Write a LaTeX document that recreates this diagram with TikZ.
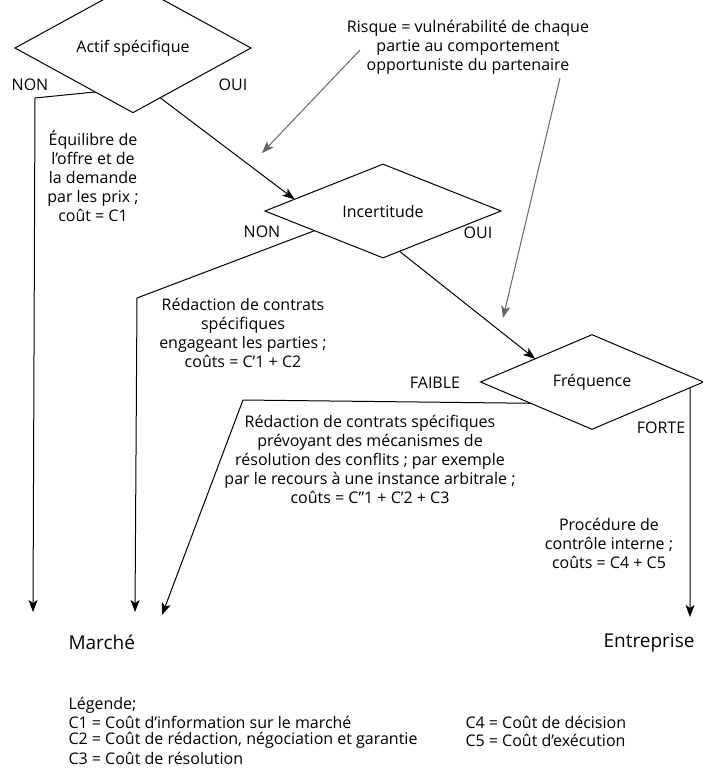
\documentclass[tikz,border=0pt]{standalone}
\usepackage{fontspec}
\setmainfont{Open Sans}
\usetikzlibrary{shapes.geometric,arrows.meta,calc}

\tikzset{
	choix/.style={draw, diamond, inner sep=0pt, outer sep=0pt, minimum width=236pt, minimum height=82pt, font=\fontsize{16}{19}\selectfont},
	txt/.style={align=center, inner sep=0pt, font=\fontsize{16}{19}\selectfont},
	grand/.style={inner sep=0pt, font=\fontsize{19}{22}\selectfont},
	leg/.style={anchor=west, inner sep=0pt, font=\fontsize{16}{18}\selectfont},
	risque/.style={draw=black!60, -{Stealth[length=12pt,width=9pt,inset=3pt,fill=black!60]}},
}

\begin{document}
\begin{tikzpicture}[x=1pt, y=-1pt, line width=1pt, >={Stealth[length=12pt,width=9pt,inset=3pt]}]
	\useasboundingbox (0,0) rectangle (703,769);
	% losanges
	\node[choix] (actif) at (133,48) {Actif spécifique};
	\node[choix] (incert) at (383,211) {Incertitude};
	\node[choix, minimum width=223pt, minimum height=80pt] (freq) at (592,382) {Fréquence};
	% textes
	\node[txt] (actifnon) at (30,85) {NON};
	\node[txt] (actifoui) at (233,85) {OUI};
	\node[txt] (risq) at (468,47) {Risque = vulnérabilité de chaque\\partie au comportement\\opportuniste du partenaire};
	\node[txt] (equil) at (93,176) {Équilibre de\\l'offre et de\\la demande\\par les prix ;\\coût = C1};
	\node[txt] (incnon) at (262,232) {NON};
	\node[txt] (incoui) at (478,233) {OUI};
	\node[txt] (redac1) at (243,333) {Rédaction de contrats\\spécifiques\\engageant les parties ;\\coûts = C'1 + C2};
	\node[txt] (faible) at (435,383) {FAIBLE};
	\node[txt] (forte) at (661,428) {FORTE};
	\node[txt] (redac2) at (370,459) {Rédaction de contrats spécifiques\\prévoyant des mécanismes de\\résolution des conflits ; par exemple\\par le recours à une instance arbitrale ;\\coûts = C"1 + C'2 + C3};
	\node[txt] (proc) at (609,543) {Procédure de\\contrôle interne ;\\coûts = C4 + C5};
	\node[grand, anchor=west] (marche) at (68,642) {Marché};
	\node[grand, anchor=east] (entrep) at (695,643) {Entreprise};
	% legende
	\node[leg] (leg0) at (68,705) {Légende;};
	\node[leg] (leg1) at (68,722) {C1 = Coût d'information sur le marché};
	\node[leg] (leg2) at (68,740) {C2 = Coût de rédaction, négociation et garantie};
	\node[leg] (leg3) at (68,758) {C3 = Coût de résolution};
	\node[leg] (leg4) at (465,722) {C4 = Coût de décision};
	\node[leg] (leg5) at (465,740) {C5 = Coût d'exécution};
	% points libres
	\coordinate (m1) at (33,612);
	\coordinate (m2) at (135,612);
	\coordinate (m3) at (162,615);
	\coordinate (e1) at (690,617);
	\coordinate (riskL) at (262,153);
	\coordinate (riskR) at (503,318);
	% fleches
	\draw[->] ($(actif.west)!0.68!(actif.south)$) -- (35,98) -- (m1);
	\draw[->] ($(actif.south)!0.23!(actif.east)$) -- ($(incert.west)!0.25!(incert.north)$);
	\draw[->] ($(incert.west)!0.42!(incert.south)$) -- (137,298) -- (m2);
	\draw[->] ($(incert.south)!0.14!(incert.east)$) -- ($(freq.west)!0.49!(freq.north)$);
	\draw[->] ($(freq.west)!0.45!(freq.south)$) -- (243,400) -- (m3);
	\draw[->] ($(freq.east)!0.12!(freq.south)$) -- (e1);
	\draw[risque] (360,50) -- (riskL);
	\draw[risque] (560,78) -- (riskR);
\end{tikzpicture}
\end{document}
